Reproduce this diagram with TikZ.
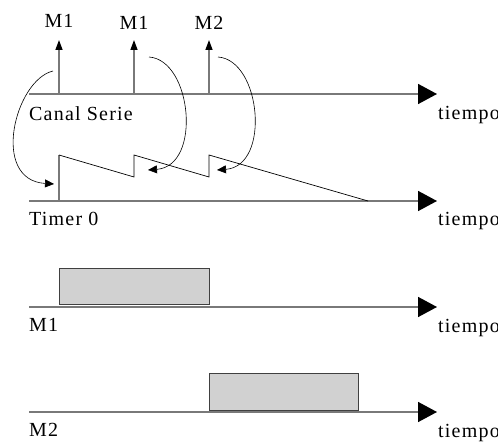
\documentclass[tikz,border=0pt]{standalone}
\usepackage{fontspec}
\setmainfont{Liberation Serif}
\newfontfamily\lblfont[LetterSpace=6]{Liberation Serif}
\usetikzlibrary{arrows.meta}
\begin{document}
\begin{tikzpicture}[x=1pt,y=-1pt,
  axisline/.style={draw=gray!95!black,line width=1.6pt,-{Triangle[length=19pt,width=20pt,fill=black,color=black]}},
  evline/.style={draw=gray!95!black,line width=1.4pt,-{Triangle[length=10pt,width=7pt,fill=black,color=black]}},
  saw/.style={draw=black,line width=0.7pt},
  loop/.style={draw=black,line width=0.6pt,-{Triangle[length=9pt,width=8pt]}},
  lbl/.style={font=\lblfont\fontsize{20}{22}\selectfont,inner sep=0pt},
  busy/.style={draw=black!75,fill=black!18,line width=0.8pt}]
\useasboundingbox (0,0) rectangle (498,443);

% time axes
\coordinate (a0) at (29,94);   \coordinate (a0e) at (437,94);
\coordinate (a1) at (29,201);  \coordinate (a1e) at (437,201);
\coordinate (a2) at (29,307);  \coordinate (a2e) at (437,307);
\coordinate (a3) at (29,412);  \coordinate (a3e) at (437,412);
\draw[axisline] (a0) -- (a0e);
\draw[axisline] (a1) -- (a1e);
\draw[axisline] (a2) -- (a2e);
\draw[axisline] (a3) -- (a3e);

% axis labels
\node[lbl,anchor=base west] (lcs) at (29,121) {Canal Serie};
\node[lbl,anchor=base west] (lt0) at (29,226) {Timer 0};
\node[lbl,anchor=base west] (lm1) at (29,332) {M1};
\node[lbl,anchor=base west] (lm2) at (29,436) {M2};
\node[lbl,anchor=base west] (t0) at (438,120) {tiempo};
\node[lbl,anchor=base west] (t1) at (438,226) {tiempo};
\node[lbl,anchor=base west] (t2) at (438,333) {tiempo};
\node[lbl,anchor=base west] (t3) at (438,438) {tiempo};

% message arrivals on the serial channel
\coordinate (s1) at (59,94);  \coordinate (e1) at (59,40);
\coordinate (s2) at (134,94); \coordinate (e2) at (134,40);
\coordinate (s3) at (209,94); \coordinate (e3) at (209,40);
\draw[evline] (s1) -- (e1);
\draw[evline] (s2) -- (e2);
\draw[evline] (s3) -- (e3);
\node[lbl,anchor=base] (m1a) at (59,28) {M1};
\node[lbl,anchor=base] (m1b) at (134,30) {M1};
\node[lbl,anchor=base] (m2a) at (209,30) {M2};

% timer 0 sawtooth
\coordinate (r0) at (59,201);
\coordinate (p1) at (59,155);  \coordinate (q1) at (134,177);
\coordinate (p2) at (134,155); \coordinate (q2) at (209,177);
\coordinate (p3) at (209,155); \coordinate (q3) at (368,201);
\draw[draw=gray!95!black,line width=1.4pt] (r0) -- (p1);
\draw[saw] (p1) -- (q1) -- (p2) -- (q2) -- (p3) -- (q3);

% timer restarts
\coordinate (c1s) at (53,71);  \coordinate (c1e) at (54,184);
\coordinate (c2s) at (149,57); \coordinate (c2e) at (148,170);
\coordinate (c3s) at (218,57); \coordinate (c3e) at (217,170);
\draw[loop] (c1s) .. controls (15,80) and (-10,180) .. (c1e);
\draw[loop] (c2s) .. controls (192,60) and (202,166) .. (c2e);
\draw[loop] (c3s) .. controls (261,60) and (271,166) .. (c3e);

% processing intervals
\node[busy,anchor=north west,minimum width=150pt,minimum height=36pt,inner sep=0pt] (b1) at (59,268) {};
\node[busy,anchor=north west,minimum width=149pt,minimum height=37pt,inner sep=0pt] (b2) at (209,373) {};
\end{tikzpicture}
\end{document}
